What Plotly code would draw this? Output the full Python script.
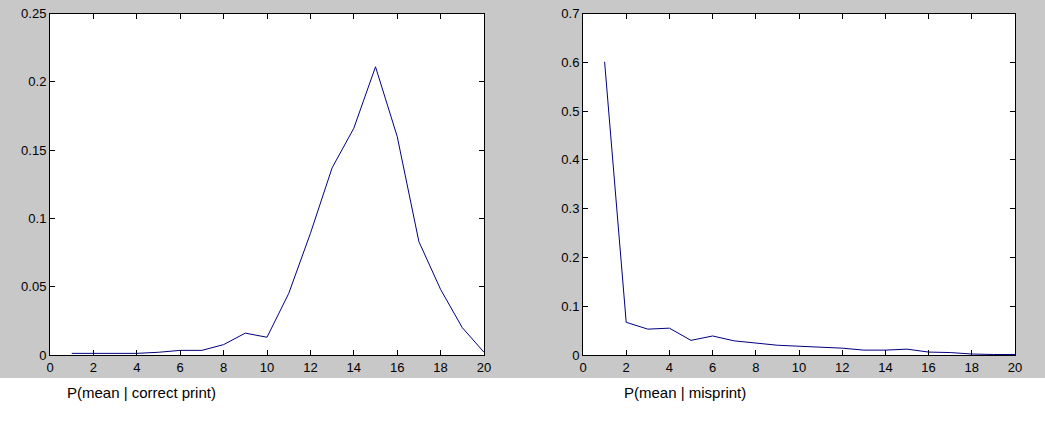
import plotly.graph_objects as go

x_vals = list(range(1, 21))
p_correct = [0.0012, 0.0012, 0.0012, 0.0012, 0.002, 0.0034, 0.0034, 0.0076, 0.016, 0.013,
             0.045, 0.089, 0.137, 0.166, 0.211, 0.160, 0.083, 0.048, 0.020, 0.002]
p_misprint = [0.601, 0.067, 0.053, 0.055, 0.030, 0.039, 0.029, 0.024, 0.020, 0.018,
              0.016, 0.014, 0.010, 0.010, 0.012, 0.006, 0.005, 0.002, 0.001, 0.001]
caption_left = "P(mean | correct print)"
caption_right = "P(mean | misprint)"

W, H = 1045, 422
line_color = "#00007f"
font = dict(family="Liberation Sans, Arial, sans-serif", size=13, color="black")
cap_font = dict(family="Liberation Sans, Arial, sans-serif", size=15, color="black")

fig = go.Figure()
fig.add_trace(go.Scatter(x=x_vals, y=p_correct, mode="lines",
                         line=dict(color=line_color, width=1), xaxis="x", yaxis="y"))
fig.add_trace(go.Scatter(x=x_vals, y=p_misprint, mode="lines",
                         line=dict(color=line_color, width=1), xaxis="x2", yaxis="y2"))

ydom = [1 - 355 / H, 1 - 13.5 / H]
common = dict(showline=True, linecolor="black", linewidth=1, mirror="ticks",
              ticks="inside", ticklen=5, tickcolor="black", showgrid=False,
              zeroline=False, tickfont=font, automargin=False)

fig.update_layout(
    width=W, height=H, autosize=False,
    margin=dict(l=0, r=0, t=0, b=0, pad=0, autoexpand=False),
    paper_bgcolor="#c8c8c8", plot_bgcolor="white",
    showlegend=False,
    font=font,
    xaxis=dict(domain=[50 / W, 484 / W], range=[0, 20], dtick=2, anchor="y", **common),
    yaxis=dict(domain=ydom, range=[0, 0.25], dtick=0.05, anchor="x", **common),
    xaxis2=dict(domain=[583 / W, 1015 / W], range=[0, 20], dtick=2, anchor="y2", **common),
    yaxis2=dict(domain=ydom, range=[0, 0.7], dtick=0.1, anchor="x2", **common),
    shapes=[dict(type="rect", xref="paper", yref="paper", x0=0, x1=1,
                 y0=0, y1=1 - 378 / H, fillcolor="white", line=dict(width=0),
                 layer="below")],
    annotations=[
        dict(text=caption_left, xref="paper", yref="paper", x=65 / W, y=1 - 392 / H,
             xanchor="left", yanchor="middle", showarrow=False, font=cap_font),
        dict(text=caption_right, xref="paper", yref="paper", x=622 / W, y=1 - 392 / H,
             xanchor="left", yanchor="middle", showarrow=False, font=cap_font),
    ],
)

fig.write_html(
    "out.html",
    config={"displayModeBar": False, "responsive": False},
    post_script="document.body.style.margin='0';document.documentElement.style.overflow='hidden';",
)
